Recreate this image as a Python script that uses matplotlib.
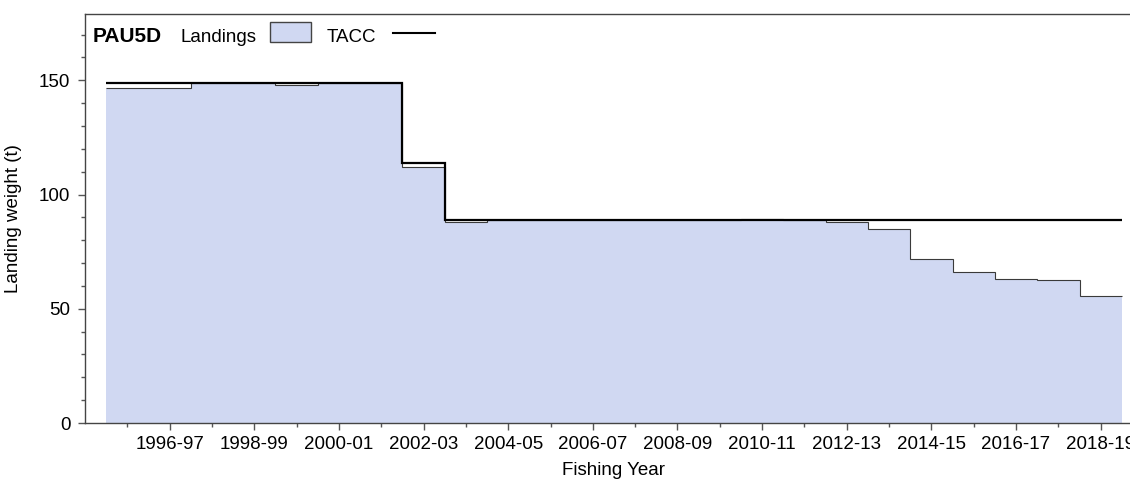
import matplotlib
matplotlib.use('Agg')
import matplotlib.pyplot as plt
from matplotlib.patches import Rectangle
from matplotlib.lines import Line2D
import numpy as np

plt.rcParams['font.family'] = ['Liberation Sans', 'DejaVu Sans']

years = ['1995-96', '1996-97', '1997-98', '1998-99', '1999-00', '2000-01',
         '2001-02', '2002-03', '2003-04', '2004-05', '2005-06', '2006-07',
         '2007-08', '2008-09', '2009-10', '2010-11', '2011-12', '2012-13',
         '2013-14', '2014-15', '2015-16', '2016-17', '2017-18', '2018-19']
landings = [146.7, 146.7, 148.9, 148.9, 147.9, 148.9, 148.9, 112.0,
            88.0, 88.9, 88.9, 88.9, 88.9, 88.9, 88.9, 89.4,
            88.9, 88.0, 84.7, 71.8, 66.2, 63.1, 62.5, 55.8]
tacc = [149.0, 149.0, 149.0, 149.0, 149.0, 149.0, 149.0, 114.0,
        89.0, 89.0, 89.0, 89.0, 89.0, 89.0, 89.0, 89.0,
        89.0, 89.0, 89.0, 89.0, 89.0, 89.0, 89.0, 89.0]

W, H = 1130, 483
fig = plt.figure(figsize=(W / 100, H / 100), dpi=100)
ax = fig.add_axes([85 / W, 60 / H, 1058 / W, 409 / H])

fill_col = '#D0D8F2'
edges = np.arange(len(years) + 1) - 0.5
ax.stairs(landings, edges, fill=True, color=fill_col, baseline=0, lw=0)
ax.stairs(landings, edges, baseline=None, color='#3a3a3a', lw=0.8)
ax.stairs(tacc, edges, baseline=None, color='black', lw=1.6)

ax.set_xlim(-1.0, 24.0)
ax.set_ylim(0, 179)

x = np.arange(len(years))
ax.set_xticks(x[1::2])
ax.set_xticklabels(years[1::2])
ax.set_xticks(x[0::2], minor=True)
ax.set_yticks([0, 50, 100, 150])
ax.set_yticks(np.arange(0, 179, 10), minor=True)

ax.tick_params(axis='both', which='major', length=5, width=1, color='#555555',
               labelsize=13.5, labelcolor='black')
ax.tick_params(axis='both', which='minor', length=3, width=1, color='#555555')
ax.tick_params(axis='x', which='major', pad=4.5)
ax.tick_params(axis='y', which='major', pad=5.5)

for s in ['left', 'bottom', 'top']:
    ax.spines[s].set_color('#444444')
    ax.spines[s].set_linewidth(1.0)
ax.spines['right'].set_visible(False)

ax.set_ylabel('Landing weight (t)', fontsize=13.5, labelpad=12)
ax.set_xlabel('Fishing Year', fontsize=13.5, labelpad=6)

# legend row inside the top of the panel
def fx(px):
    return px / W

def fy(py):
    return 1 - py / H

fig.text(fx(93), fy(42), 'PAU5D', fontsize=15, fontweight='bold', va='baseline')
fig.text(fx(180), fy(42), 'Landings', fontsize=13.5, va='baseline')
fig.add_artist(Rectangle((fx(270), fy(42)), fx(41), 20 / H, transform=fig.transFigure,
                         facecolor=fill_col, edgecolor='#444444', lw=1.0))
fig.text(fx(327), fy(42), 'TACC', fontsize=13.5, va='baseline')
fig.add_artist(Line2D([fx(393), fx(435)], [fy(32.5), fy(32.5)], transform=fig.transFigure,
                      color='black', lw=1.5))

fig.savefig('out.png', dpi=100)
